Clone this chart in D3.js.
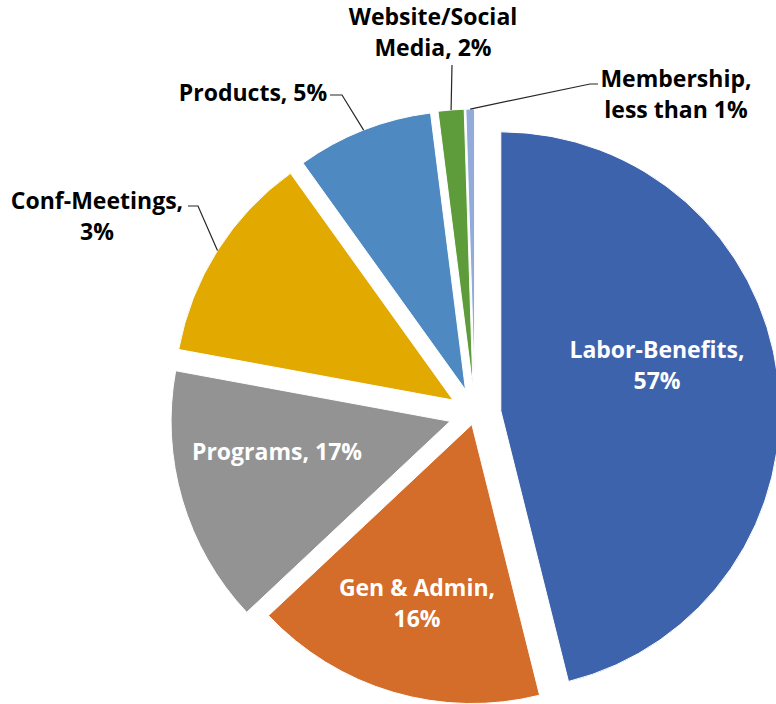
<!DOCTYPE html>
<html>
<head>
<meta charset="utf-8">
<script src="https://cdn.jsdelivr.net/npm/d3@7"></script>
<style>
  html, body { margin: 0; padding: 0; background: #fff; }
  svg { display: block; }
  text { font-family: "Open Sans", Lato, sans-serif; font-weight: 700; font-variant-ligatures: none; }
</style>
</head>
<body>
<svg id="chart" width="776" height="704"></svg>
<script>
// ---- data ----
const categories = ["Labor-Benefits", "Gen & Admin", "Programs", "Conf-Meetings", "Products", "Website/Social Media", "Membership"];
const sliceValues = [46.1, 16.9, 14.9, 12.2, 7.9, 1.5, 0.5];
const labelLines = [
  ["Labor-Benefits,", "57%"],
  ["Gen & Admin,", "16%"],
  ["Programs, 17%"],
  ["Conf-Meetings,", "3%"],
  ["Products, 5%"],
  ["Website/Social", "Media, 2%"],
  ["Membership,", "less than 1%"]
];
const colors = ["#3D63AD", "#D46C2A", "#939393", "#E2AA00", "#4E8AC1", "#5E9C3B", "#92ABDA"];

// ---- layout ----
const W = 776, H = 704;
const cx = 475, cy = 414, R = 279;
const explode = [26, 11, 26, 26, 26, 26, 26];
// label placement relative to pie centre: [dx, dy, colour]
const labelPos = [
  [182, -49, "#fff"],
  [-58, 189, "#fff"],
  [-198, 38, "#fff"],
  [-378, -198, "#000"],
  [-222, -321, "#000"],
  [-42, -382, "#000"],
  [201, -320, "#000"]
];
// leader elbow relative to centre and tail length
const leaders = {
  3: { elbow: [-277, -208], tail: -10 },
  4: { elbow: [-133, -319], tail: -12 },
  5: { elbow: [-23, -349], tail: 0 },
  6: { elbow: [115, -330], tail: 8 }
};

const svg = d3.select("#chart");
const g = svg.append("g").attr("transform", `translate(${cx},${cy})`);

const pie = d3.pie().sort(null).value(d => d).startAngle(0).endAngle(2 * Math.PI);
const arcs = pie(sliceValues);
const arc = d3.arc().innerRadius(0).outerRadius(R);

function offset(d, i) {
  const a = (d.startAngle + d.endAngle) / 2;
  return [Math.sin(a) * explode[i], -Math.cos(a) * explode[i]];
}

g.selectAll("path.slice")
  .data(arcs)
  .join("path")
  .attr("class", "slice")
  .attr("d", arc)
  .attr("fill", (d, i) => colors[i])
  .attr("stroke", "#fff")
  .attr("stroke-width", 1)
  .attr("transform", (d, i) => {
    const [ox, oy] = offset(d, i);
    return `translate(${ox},${oy})`;
  });

// leader lines
Object.keys(leaders).forEach(k => {
  const i = +k;
  const d = arcs[i];
  const a = (d.startAngle + d.endAngle) / 2;
  const [ox, oy] = offset(d, i);
  const p0 = [ox + Math.sin(a) * R, oy - Math.cos(a) * R];
  const e = leaders[i].elbow;
  const pts = [p0, e];
  if (leaders[i].tail) pts.push([e[0] + leaders[i].tail, e[1]]);
  g.append("path")
    .attr("d", d3.line()(pts))
    .attr("fill", "none")
    .attr("stroke", "#262626")
    .attr("stroke-width", 1.2);
});

// labels
const lineH = 31;
arcs.forEach((d, i) => {
  const [lx, ly, col] = labelPos[i];
  const lines = labelLines[i];
  const t = g.append("text")
    .attr("text-anchor", "middle")
    .attr("fill", col)
    .attr("font-size", 23)
    .attr("x", lx)
    .attr("y", ly);
  lines.forEach((ln, j) => {
    t.append("tspan")
      .attr("x", lx)
      .attr("y", ly + (j - (lines.length - 1) / 2) * lineH)
      .attr("dy", "0.35em")
      .text(ln);
  });
});
</script>
</body>
</html>
